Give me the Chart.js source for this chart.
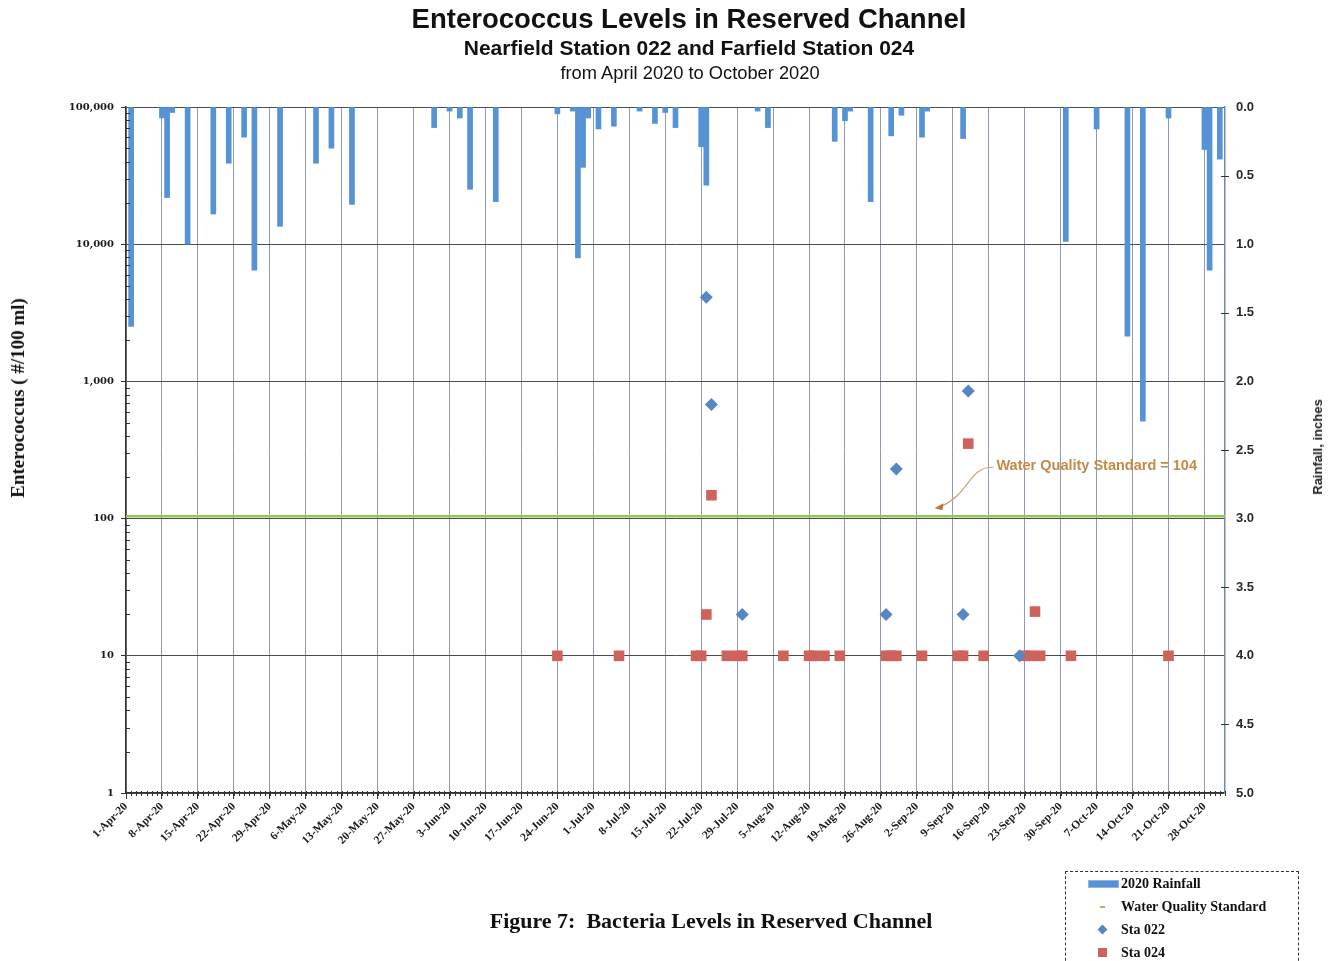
<!DOCTYPE html>
<html>
<head>
<meta charset="utf-8">
<title>Enterococcus Levels in Reserved Channel</title>
<script src="https://cdn.jsdelivr.net/npm/chart.js@4.4.1/dist/chart.umd.min.js"></script>
<style>
  html, body { margin: 0; padding: 0; background: #fff; }
  #wrap { position: relative; width: 1338px; height: 961px; overflow: hidden; background: #fff; }
  #c { position: absolute; left: 0; top: 0; }
  .txt { position: absolute; white-space: nowrap; color: #111; }
  .center { transform: translateX(-50%); }
  #title { left: 689px; top: 3px; font: bold 27.5px/32px "Liberation Sans", Arial, sans-serif; }
  #sub1 { left: 689px; top: 36px; font: bold 21px/24px "Liberation Sans", Arial, sans-serif; }
  #sub2 { left: 690px; top: 62px; font: 18.3px/21px "Liberation Sans", Arial, sans-serif; }
  #ytitle { left: 18px; top: 398px; transform: translate(-50%, -50%) rotate(-90deg);
            font: bold 19px/22px "Liberation Serif", "Times New Roman", serif; }
  #rtitle { left: 1318px; top: 447px; transform: translate(-50%, -50%) rotate(-90deg);
            font: bold 13px/16px "Liberation Sans", Arial, sans-serif; color: #222; }
  #caption { left: 711px; top: 908px; font: bold 22px/26px "Liberation Serif", "Times New Roman", serif; }
  #legend { position: absolute; left: 1065px; top: 871px; width: 234px; height: 100px;
            border: 1px dashed #333; box-sizing: border-box; }
  .lg-row { position: absolute; left: 0; height: 20px; width: 100%; }
  .lg-label { position: absolute; left: 55px; top: 0; font: bold 14px/20px "Liberation Serif", "Times New Roman", serif; color: #111; }
  .lg-mark { position: absolute; }
</style>
</head>
<body>
<div id="wrap">
  <canvas id="c" width="1338" height="961"></canvas>
  <div class="txt center" id="title">Enterococcus Levels in Reserved Channel</div>
  <div class="txt center" id="sub1">Nearfield Station 022 and Farfield Station 024</div>
  <div class="txt center" id="sub2">from April 2020 to October 2020</div>
  <div class="txt" id="ytitle">Enterococcus ( #/100 ml)</div>
  <div class="txt" id="rtitle">Rainfall, inches</div>
  <div class="txt center" id="caption">Figure 7:&nbsp; Bacteria Levels in Reserved Channel</div>
  <div id="legend"></div>
</div>
<script>
// ---- Data -------------------------------------------------------------
const START_DATE = '2020-04-01';
const END_DATE = '2020-11-01';

// Weekly date-axis labels
const xTickLabels = [
  '1-Apr-20', '8-Apr-20', '15-Apr-20', '22-Apr-20', '29-Apr-20',
  '6-May-20', '13-May-20', '20-May-20', '27-May-20',
  '3-Jun-20', '10-Jun-20', '17-Jun-20', '24-Jun-20',
  '1-Jul-20', '8-Jul-20', '15-Jul-20', '22-Jul-20', '29-Jul-20',
  '5-Aug-20', '12-Aug-20', '19-Aug-20', '26-Aug-20',
  '2-Sep-20', '9-Sep-20', '16-Sep-20', '23-Sep-20', '30-Sep-20',
  '7-Oct-20', '14-Oct-20', '21-Oct-20', '28-Oct-20'
];

// Enterococcus axis (log) tick values
const yTickValues = [1, 10, 100, 1000, 10000, 100000];
// Rainfall axis tick values (inches)
const rainTickValues = [0, 0.5, 1, 1.5, 2, 2.5, 3, 3.5, 4, 4.5, 5];

// Daily rainfall, inches
const rainDates = [
  '2020-04-02', '2020-04-08', '2020-04-09', '2020-04-10', '2020-04-13', '2020-04-18',
  '2020-04-21', '2020-04-24', '2020-04-26', '2020-05-01', '2020-05-08', '2020-05-11',
  '2020-05-15', '2020-05-31', '2020-06-03', '2020-06-05', '2020-06-07', '2020-06-12',
  '2020-06-24', '2020-06-27', '2020-06-28', '2020-06-29', '2020-06-30', '2020-07-02',
  '2020-07-05', '2020-07-10', '2020-07-13', '2020-07-15', '2020-07-17', '2020-07-22',
  '2020-07-23', '2020-08-02', '2020-08-04', '2020-08-17', '2020-08-19', '2020-08-20',
  '2020-08-24', '2020-08-28', '2020-08-30', '2020-09-03', '2020-09-04', '2020-09-11',
  '2020-10-01', '2020-10-07', '2020-10-13', '2020-10-16', '2020-10-21', '2020-10-28',
  '2020-10-29', '2020-10-31'
];
const rainInches = [
  1.60, 0.08, 0.66, 0.04, 1.00, 0.78,
  0.41, 0.22, 1.19, 0.87, 0.41, 0.30,
  0.71, 0.15, 0.03, 0.08, 0.60, 0.69,
  0.05, 0.03, 1.10, 0.44, 0.08, 0.16,
  0.14, 0.03, 0.12, 0.04, 0.15, 0.29,
  0.57, 0.03, 0.15, 0.25, 0.10, 0.03,
  0.69, 0.21, 0.06, 0.22, 0.03, 0.23,
  0.98, 0.16, 1.67, 2.29, 0.08, 0.31,
  1.19, 0.38
];

// Nearfield station 022, Enterococcus (#/100 ml)
const sta022Dates = ['2020-07-23', '2020-07-24', '2020-07-30', '2020-08-27', '2020-08-29',
                     '2020-09-11', '2020-09-12', '2020-09-22'];
const sta022Values = [4100, 680, 20, 20, 230, 20, 850, 10];

// Farfield station 024, Enterococcus (#/100 ml)
const sta024Dates = [
  '2020-06-24', '2020-07-06', '2020-07-21', '2020-07-22', '2020-07-23', '2020-07-24',
  '2020-07-27', '2020-07-29', '2020-07-30', '2020-08-07', '2020-08-12', '2020-08-13',
  '2020-08-15', '2020-08-18', '2020-08-27', '2020-08-28', '2020-08-29', '2020-09-03',
  '2020-09-10', '2020-09-11', '2020-09-12', '2020-09-15', '2020-09-23', '2020-09-24',
  '2020-09-25', '2020-09-26', '2020-10-02', '2020-10-21'
];
const sta024Values = [
  10, 10, 10, 10, 20, 148,
  10, 10, 10, 10, 10, 10,
  10, 10, 10, 10, 10, 10,
  10, 10, 352, 10, 10, 10,
  21, 10, 10, 10
];

// Water quality standard (#/100 ml)
const WQS = 104;

// ---- Helpers ----------------------------------------------------------
const MONTHS = { Jan: 0, Feb: 1, Mar: 2, Apr: 3, May: 4, Jun: 5, Jul: 6, Aug: 7, Sep: 8, Oct: 9, Nov: 10, Dec: 11 };
function isoToUTC(s) { const [y, m, d] = s.split('-').map(Number); return Date.UTC(y, m - 1, d); }
const T0 = isoToUTC(START_DATE);
const dayOf = s => (isoToUTC(s) - T0) / 86400000;
function labelToDay(lbl) {
  const [d, mon, yy] = lbl.split('-');
  return (Date.UTC(2000 + Number(yy), MONTHS[mon], Number(d)) - T0) / 86400000;
}
const X_MAX = dayOf(END_DATE);
const xTickDays = xTickLabels.map(labelToDay);
const toXY = (dates, vals) => dates.map((d, i) => ({ x: dayOf(d), y: vals[i] }));

// ---- Styles -----------------------------------------------------------
const RAIN_COLOR = '#5592d6';
const RAIN_EDGE = '#8cb6e4';
const WQS_COLOR = '#92c85a';
const STA022_COLOR = '#5687c4';
const STA024_COLOR = '#d0625d';
const ANNOT_COLOR = '#c48a48';

// ---- Decorations: minor ticks and the standard's call-out ------------
const decor = {
  id: 'decor',
  afterDatasetsDraw(chart) {
    const { ctx, chartArea: a, scales } = chart;
    const xs = scales.x, ys = scales.y, rs = scales.rain;
    ctx.save();
    ctx.strokeStyle = '#333';
    ctx.lineWidth = 1;
    ctx.beginPath();
    // daily minor ticks along the date axis
    for (let d = 0; d <= X_MAX; d++) {
      const px = Math.round(xs.getPixelForValue(d)) + 0.5;
      ctx.moveTo(px, a.bottom - 2);
      ctx.lineTo(px, a.bottom + 3);
    }
    // log minor ticks on the left axis
    for (let k = 0; k < 5; k++) {
      for (let m = 2; m <= 9; m++) {
        const py = Math.round(ys.getPixelForValue(m * Math.pow(10, k))) + 0.5;
        ctx.moveTo(a.left, py);
        ctx.lineTo(a.left + 4, py);
      }
    }
    // half-inch ticks on the rainfall axis
    rainTickValues.forEach(v => {
      if (v % 1 === 0) return;
      const py = Math.round(rs.getPixelForValue(v)) + 0.5;
      ctx.moveTo(a.right - 4, py);
      ctx.lineTo(a.right + 4, py);
    });
    ctx.stroke();

    // call-out for the water quality standard
    const lineY = ys.getPixelForValue(WQS);
    const tipX = xs.getPixelForValue(158);
    const tipY = lineY - 9;
    const textX = xs.getPixelForValue(169.5);
    const textY = lineY - 50;
    ctx.strokeStyle = '#c9a47c';
    ctx.lineWidth = 1.2;
    ctx.beginPath();
    ctx.moveTo(textX - 3, textY + 1);
    ctx.bezierCurveTo(textX - 28, textY, textX - 26, tipY - 14, tipX + 4, tipY - 1);
    ctx.stroke();
    ctx.fillStyle = '#b9763a';
    ctx.beginPath();
    ctx.moveTo(tipX - 3, tipY + 1);
    ctx.lineTo(tipX + 6, tipY - 4);
    ctx.lineTo(tipX + 5, tipY + 3);
    ctx.closePath();
    ctx.fill();
    ctx.font = 'bold 14.5px "Liberation Sans", Arial, sans-serif';
    ctx.fillStyle = ANNOT_COLOR;
    ctx.textBaseline = 'middle';
    ctx.textAlign = 'left';
    ctx.fillText('Water Quality Standard = ' + WQS, textX, textY);
    ctx.restore();
  }
};

// ---- Chart ------------------------------------------------------------
const chart = new Chart(document.getElementById('c'), {
  type: 'bar',
  data: {
    datasets: [
      {
        type: 'line',
        label: 'Sta 022',
        data: toXY(sta022Dates, sta022Values),
        yAxisID: 'y',
        showLine: false,
        pointStyle: 'rectRot',
        pointRadius: 6.5,
        pointBackgroundColor: STA022_COLOR,
        pointBorderColor: STA022_COLOR,
        pointBorderWidth: 0,
        order: 0
      },
      {
        type: 'line',
        label: 'Sta 024',
        data: toXY(sta024Dates, sta024Values),
        yAxisID: 'y',
        showLine: false,
        pointStyle: 'rect',
        pointRadius: 7.5,
        pointBackgroundColor: STA024_COLOR,
        pointBorderColor: STA024_COLOR,
        pointBorderWidth: 0,
        order: 1
      },
      {
        type: 'line',
        label: 'Water Quality Standard',
        data: [{ x: 0, y: WQS }, { x: X_MAX, y: WQS }],
        yAxisID: 'y',
        borderColor: WQS_COLOR,
        borderWidth: 2.5,
        pointRadius: 0,
        order: 2
      },
      {
        type: 'bar',
        label: '2020 Rainfall',
        data: toXY(rainDates, rainInches),
        yAxisID: 'rain',
        backgroundColor: RAIN_COLOR,
        borderWidth: 0,
        barThickness: 5,
        order: 3
      }
    ]
  },
  options: {
    responsive: false,
    animation: false,
    layout: { padding: { top: 107, left: 0, right: 0, bottom: 0 } },
    plugins: { legend: { display: false }, tooltip: { enabled: false }, title: { display: false } },
    scales: {
      x: {
        type: 'linear',
        position: 'bottom',
        offset: false,
        min: 0,
        max: X_MAX,
        afterBuildTicks: s => { s.ticks = xTickDays.map(v => ({ value: v })); },
        afterFit: s => { s.height = 168; },
        ticks: {
          autoSkip: false,
          maxRotation: 45,
          minRotation: 45,
          padding: 1,
          color: '#1a1a1a',
          font: { family: '"Liberation Serif", "Times New Roman", serif', size: 11.5, weight: 'bold' },
          callback: (v, i) => xTickLabels[i]
        },
        grid: { offset: false, color: '#909cab', lineWidth: 1, tickLength: 6, tickColor: '#333' },
        border: { color: '#333', width: 1.5 }
      },
      y: {
        type: 'logarithmic',
        position: 'left',
        min: 1,
        max: 100000,
        afterBuildTicks: s => { s.ticks = yTickValues.map(v => ({ value: v, major: true })); },
        afterFit: s => { s.width = 126; },
        ticks: {
          padding: 7,
          color: '#1a1a1a',
          font: { family: '"DejaVu Serif", serif', size: 10, weight: 'bold' },
          callback: v => Number(v).toLocaleString('en-US')
        },
        grid: { color: '#4d4d4d', lineWidth: 1, tickLength: 5, tickColor: '#333' },
        border: { color: '#333', width: 1.5 }
      },
      rain: {
        type: 'linear',
        position: 'right',
        reverse: true,
        min: 0,
        max: 5,
        afterBuildTicks: s => { s.ticks = rainTickValues.map(v => ({ value: v })); },
        afterFit: s => { s.width = 113; },
        ticks: {
          padding: 11,
          color: '#2a2a2a',
          font: { family: '"Liberation Sans", Arial, sans-serif', size: 13, weight: 'bold' },
          callback: v => Number(v).toFixed(1)
        },
        grid: { drawOnChartArea: false, drawTicks: false },
        border: { color: '#6f8db3', width: 1.5 }
      }
    }
  },
  plugins: [decor]
});

// ---- Legend built from the chart's datasets ---------------------------
(function buildLegend() {
  const box = document.getElementById('legend');
  const order = ['2020 Rainfall', 'Water Quality Standard', 'Sta 022', 'Sta 024'];
  const byLabel = {};
  chart.data.datasets.forEach(ds => { byLabel[ds.label] = ds; });
  order.forEach((name, i) => {
    const ds = byLabel[name];
    const row = document.createElement('div');
    row.className = 'lg-row';
    row.style.top = (2 + i * 23) + 'px';
    const mark = document.createElement('div');
    mark.className = 'lg-mark';
    if (ds.type === 'bar') {
      Object.assign(mark.style, { left: '22px', top: '6px', width: '31px', height: '8px',
        background: ds.backgroundColor, border: '1px solid ' + RAIN_EDGE, boxSizing: 'border-box' });
    } else if (ds.showLine === false && ds.pointStyle === 'rectRot') {
      Object.assign(mark.style, { left: '33px', top: '6px', width: '7px', height: '7px',
        background: ds.pointBackgroundColor, transform: 'rotate(45deg)' });
    } else if (ds.showLine === false) {
      Object.assign(mark.style, { left: '32px', top: '5px', width: '9px', height: '9px',
        background: ds.pointBackgroundColor });
    } else {
      Object.assign(mark.style, { left: '34px', top: '9px', width: '5px', height: '2px',
        background: ds.borderColor });
    }
    const lbl = document.createElement('div');
    lbl.className = 'lg-label';
    lbl.textContent = name;
    row.appendChild(mark);
    row.appendChild(lbl);
    box.appendChild(row);
  });
})();
</script>
</body>
</html>
